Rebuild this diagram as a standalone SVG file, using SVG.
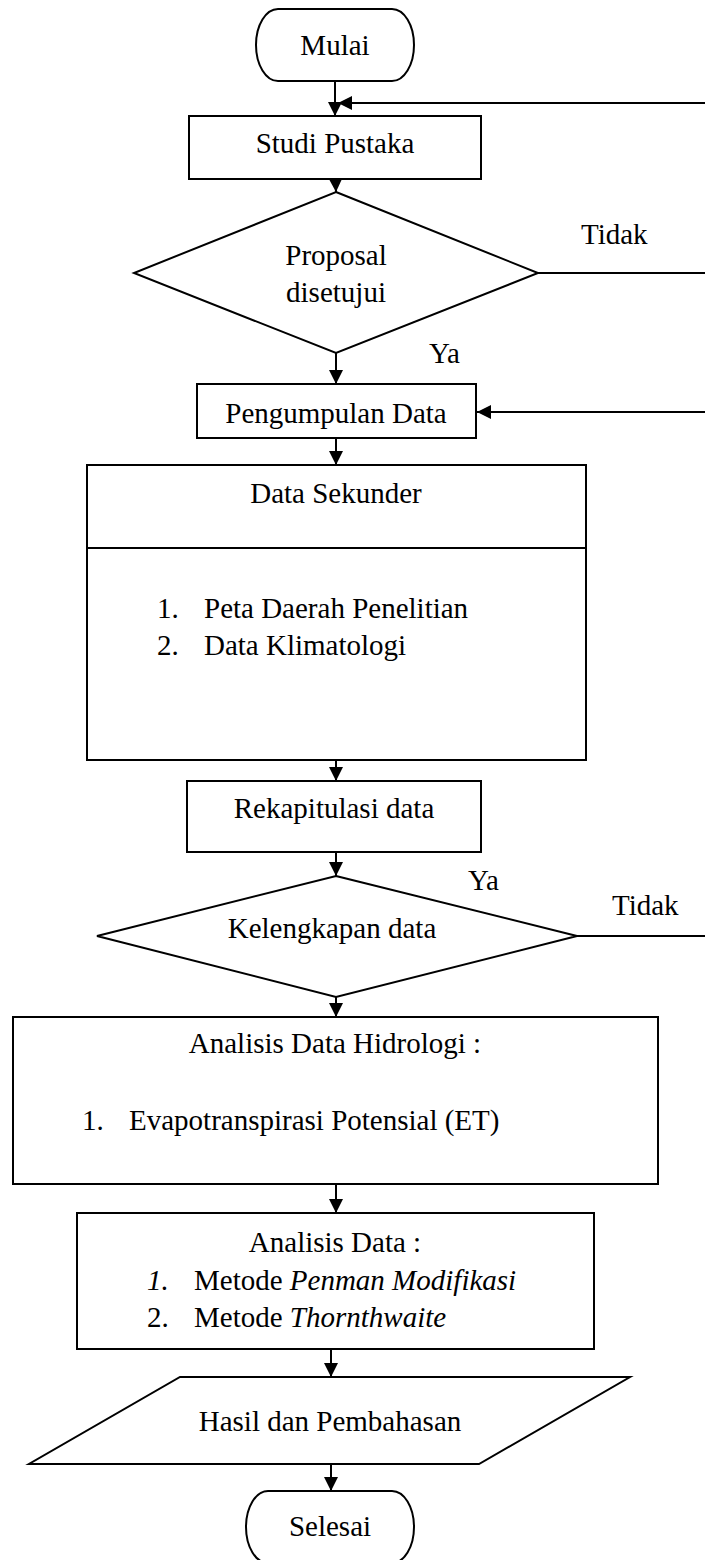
<svg xmlns="http://www.w3.org/2000/svg" width="705" height="1560" viewBox="0 0 705 1560">
<style>
.box{fill:#fff;stroke:#000;stroke-width:2}
.ln{stroke:#000;stroke-width:2;fill:none}
text{font-family:"Liberation Serif","Times New Roman",serif;font-size:29px;fill:#000}
.c{text-anchor:middle}
.i{font-style:italic}
</style>
<defs>
<marker id="ah" markerUnits="userSpaceOnUse" markerWidth="16" markerHeight="16" refX="14" refY="7" orient="auto">
<path d="M0,0 L14,7 L0,14 z" fill="#000"/>
</marker>
</defs>
<rect width="705" height="1560" fill="#fff"/>
<g id="connectors">
<line class="ln" x1="335" y1="81" x2="335" y2="116" marker-end="url(#ah)"/>
<line class="ln" x1="705" y1="103" x2="338" y2="103" marker-end="url(#ah)"/>
<line class="ln" x1="335" y1="162" x2="336" y2="192" marker-end="url(#ah)"/>
<line class="ln" x1="538" y1="273" x2="705" y2="273"/>
<line class="ln" x1="336" y1="353" x2="336" y2="384" marker-end="url(#ah)"/>
<line class="ln" x1="705" y1="412" x2="477" y2="412" marker-end="url(#ah)"/>
<line class="ln" x1="336" y1="438" x2="336" y2="465" marker-end="url(#ah)"/>
<line class="ln" x1="336" y1="760" x2="336" y2="781" marker-end="url(#ah)"/>
<line class="ln" x1="336" y1="852" x2="336" y2="876" marker-end="url(#ah)"/>
<line class="ln" x1="577" y1="936" x2="705" y2="936"/>
<line class="ln" x1="336" y1="997" x2="336" y2="1017" marker-end="url(#ah)"/>
<line class="ln" x1="336" y1="1184" x2="336" y2="1213" marker-end="url(#ah)"/>
<line class="ln" x1="331" y1="1349" x2="331" y2="1377" marker-end="url(#ah)"/>
<line class="ln" x1="331" y1="1464" x2="331" y2="1491" marker-end="url(#ah)"/>
<text x="581" y="244">Tidak</text>
<text x="429" y="363">Ya</text>
<text x="468" y="890">Ya</text>
<text x="612" y="915">Tidak</text>
</g>
<g id="mulai">
<rect class="box" x="256" y="9" width="158" height="72" rx="22" ry="36"/>
<text class="c" x="335" y="55">Mulai</text>
</g>
<g id="studi-pustaka">
<rect class="box" x="189" y="116" width="292" height="63"/>
<text class="c" x="335" y="153">Studi Pustaka</text>
</g>
<g id="proposal">
<polygon class="box" points="336,192 538,273 336,353 134,273"/>
<text class="c" x="336" y="265">Proposal</text>
<text class="c" x="336" y="302">disetujui</text>
</g>
<g id="pengumpulan-data">
<rect class="box" x="197" y="384" width="279" height="54"/>
<text class="c" x="336" y="423">Pengumpulan Data</text>
</g>
<g id="data-sekunder">
<rect class="box" x="87" y="465" width="499" height="295"/>
<line class="ln" x1="87" y1="548" x2="586" y2="548"/>
<text class="c" x="336" y="503">Data Sekunder</text>
<text x="157" y="618">1.</text>
<text x="204" y="618">Peta Daerah Penelitian</text>
<text x="157" y="655">2.</text>
<text x="204" y="655">Data Klimatologi</text>
</g>
<g id="rekapitulasi">
<rect class="box" x="187" y="781" width="294" height="71"/>
<text class="c" x="334" y="818">Rekapitulasi data</text>
</g>
<g id="kelengkapan">
<polygon class="box" points="336,876 577,936 336,997 97,936"/>
<text class="c" x="332" y="938">Kelengkapan data</text>
</g>
<g id="analisis-hidrologi">
<rect class="box" x="13" y="1017" width="645" height="167"/>
<text class="c" x="335" y="1053">Analisis Data Hidrologi :</text>
<text x="82" y="1130">1.</text>
<text x="129" y="1130">Evapotranspirasi Potensial (ET)</text>
</g>
<g id="analisis-data">
<rect class="box" x="77" y="1213" width="517" height="136"/>
<text class="c" x="335" y="1252">Analisis Data :</text>
<text class="i" x="147" y="1290">1.</text>
<text x="194" y="1290">Metode <tspan class="i">Penman Modifikasi</tspan></text>
<text x="147" y="1327">2.</text>
<text x="194" y="1327">Metode <tspan class="i">Thornthwaite</tspan></text>
</g>
<g id="hasil">
<polygon class="box" points="180,1377 630,1377 479,1464 29,1464"/>
<text class="c" x="330" y="1431">Hasil dan Pembahasan</text>
</g>
<g id="selesai">
<rect class="box" x="246" y="1491" width="168" height="72" rx="22" ry="36"/>
<text class="c" x="330" y="1536">Selesai</text>
</g>
</svg>
